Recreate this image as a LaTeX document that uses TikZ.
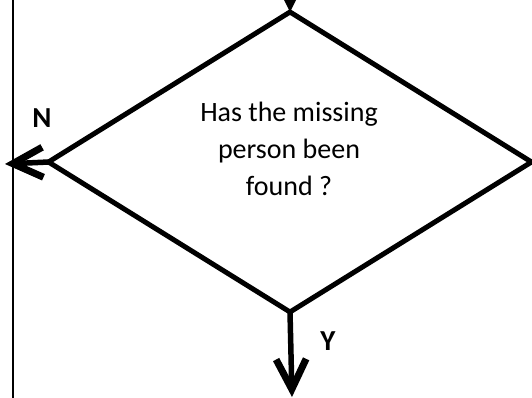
\documentclass[tikz,border=0pt]{standalone}
\usepackage{fontspec}
\setmainfont{Carlito}
\usetikzlibrary{shapes.geometric,arrows.meta}
\begin{document}
\begin{tikzpicture}[x=1pt,y=-1pt,
  decision/.style={diamond, draw, line width=5pt, minimum width=483pt, minimum height=300pt, inner sep=0pt, outer sep=0pt},
  flowarrow/.style={line width=5.5pt, -{Straight Barb[length=30pt,width=30pt,line width=7pt]}},
  branchlabel/.style={font=\fontsize{29}{29}\selectfont\bfseries, inner sep=0pt},
  qtext/.style={align=center, font=\fontsize{28}{37}\selectfont, inner sep=0pt},
  border/.style={line width=2.2pt}]
\useasboundingbox (0,0) rectangle (532,397);
\clip (0,0) rectangle (532,397);
\fill[white] (0,0) rectangle (532,397);
\coordinate (ltop) at (13,-5);
\coordinate (lbot) at (13,402);
\draw[border] (ltop) -- (lbot);
\node[decision] (q) at (290,162) {};
\node[qtext] (qt) at (289,149) {Has the missing\\person been\\found ?};
\coordinate (topstart) at (290,-40);
\coordinate (nend) at (5,164);
\coordinate (yend) at (292,397);
\draw[flowarrow] (topstart) -- (q.north);
\draw[flowarrow] (q.west) -- (nend);
\draw[flowarrow] (q.south) -- (yend);
\node[branchlabel] (nlab) at (42,118) {N};
\node[branchlabel] (ylab) at (328,341) {Y};
\end{tikzpicture}
\end{document}
